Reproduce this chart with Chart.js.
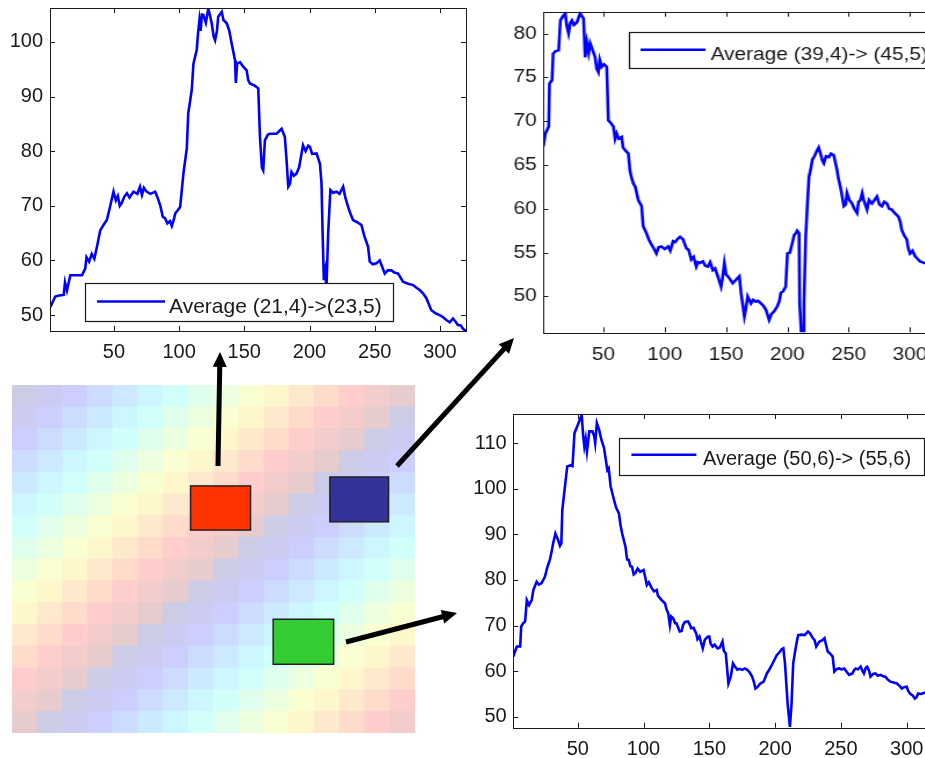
<!DOCTYPE html>
<html>
<head>
<meta charset="utf-8">
<script src="https://cdn.jsdelivr.net/npm/chart.js@4.4.1/dist/chart.umd.min.js"></script>
<style>
  html, body { margin: 0; padding: 0; background: #fff; width: 925px; height: 758px; overflow: hidden; }
  .abs { position: absolute; }
  #heatWrap { left: 12px; top: 385px; width: 403px; height: 348px; }
  #c2wrap { left: 470px; top: 0; transform: scaleX(1.16); transform-origin: 0 0; }
  #overlay { left: 0; top: 0; pointer-events: none; z-index: 10; }
</style>
</head>
<body>
<canvas id="c1" class="abs" width="472" height="368" style="left:0;top:0"></canvas>
<div id="c2wrap" class="abs"><canvas id="c2" width="404" height="370"></canvas></div>
<canvas id="c3" class="abs" width="480" height="358" style="left:460px;top:400px"></canvas>
<div id="heatWrap" class="abs"><canvas id="heat" width="403" height="348"></canvas></div>
<canvas id="overlay" class="abs" width="925" height="758"></canvas>
<script>
// ---- data ----
const xTicks = [50, 100, 150, 200, 250, 300];
const yTicks1 = [50, 60, 70, 80, 90, 100];
const yTicks2 = [50, 55, 60, 65, 70, 75, 80];
const yTicks3 = [50, 60, 70, 80, 90, 100, 110];

const label1 = 'Average (21,4)->(23,5)';
const label2 = 'Average (39,4)-> (45,5)';
const label3 = 'Average (50,6)-> (55,6)';

// [x, value]
const avg1 = [
  [1.3,51.5],[5,53.4],[8,53.6],[11.5,53.7],[12.5,56],[14,54.5],[16.6,57.3],[20,57.3],[25.5,57.3],
  [28,58.5],[29,60.6],[31,59.8],[33,61.2],[35,60.3],[37,62.5],[39.5,65.5],[42,66.5],[44.6,67.4],
  [47,69.8],[49.7,72.6],[51.5,71],[53,71.8],[54.5,70],[56,70.5],[58,71.7],[60,72.3],[62,71.5],
  [65,72.6],[68,72.2],[70,73.5],[71.5,72],[73,73.3],[75,72.6],[78,72.2],[81.6,72.6],[83.5,71.5],
  [85.5,70.1],[87.5,68],[89.3,67.7],[91,66.8],[93,67.2],[94.4,66.3],[96,67.5],[97,68.6],[100.8,69.8],
  [103.3,75.9],[105.9,80.5],[107,86.9],[109.7,91.2],[111,96],[113.5,98.5],[114.5,101.5],[115.6,104],
  [116.5,102],[117.5,105],[118.6,104.9],[120.5,103.5],[122.4,106.1],[124,104.5],[125,103.4],
  [126.5,101],[127.6,100.3],[129,102],[130,104.6],[132.7,105.5],[134,104],[136.5,103.4],[138.5,102],
  [140.3,99.7],[142.9,96.6],[143.5,92.5],[144.5,96],[146.7,96.3],[149,95.5],[151.8,94.8],[153,93],
  [154.3,92.4],[158,92],[160.7,91.5],[162,82.6],[163.5,77],[164.5,76.5],[165.8,82],[168,83],
  [169.6,83.2],[174.7,83.2],[176.5,83.6],[178.6,84.1],[181.1,82.6],[182.5,78],[183.7,73.5],[185,74],
  [186.2,76.2],[188,75.5],[190,75.9],[192,77],[193.9,79.6],[195,81.1],[197,80],[199,81],[200.3,80.8],
  [202,79.5],[205.4,79.6],[208,77.7],[209.2,74.1],[210,65.5],[211,56.4],[212,58],[213,55],[214.3,64.9],
  [216,72.9],[218,72.4],[220.7,72.6],[223,72.2],[225.8,73.5],[227.5,71.5],[229.6,69.8],[231.5,68.5],
  [233.4,67.4],[236.5,67],[239.8,66.5],[242,64.5],[244.9,62.5],[246.2,59.8],[248.5,59.3],[251.3,59.5],
  [253.8,60],[255.5,59],[257.7,57.6],[260,58.2],[262.8,58.2],[265,57.8],[267.9,57.6],[270,56.8],
  [271.7,56.1],[275,55.8],[279.4,55.5],[282,55],[284.5,54.6],[287,54],[289.6,53.1],[291.5,52],
  [293.4,50.9],[297,50.3],[299.8,50],[302,49.7],[304.9,49.1],[307.5,48.7],[310,49.4],[312,48.8],
  [313.8,48.2],[316,48.1],[317.7,47.5],[320,47.1]
];

const avg2 = [
  [1,67.1],[2.7,68.6],[5.4,69.4],[6,74.3],[8.1,74.7],[9,77.7],[11,78],[13.5,78.1],[14.9,81.5],[17,82],
  [18.9,82.3],[20,81],[21.6,80],[23,81.2],[24.3,81.5],[26,81],[28.4,81.3],[31,82.3],[33.8,81.7],
  [35.1,77.3],[36.5,79],[38,77.8],[39.2,78.9],[41,78.2],[43.2,77.3],[44.5,76],[45.9,75.6],[47,77],
  [48.6,76.2],[50.5,76.5],[52.7,76.2],[54,70.1],[56,69.8],[58.1,69.4],[59.5,68],[60.8,68.6],[62.5,68],
  [64.9,68.2],[66,67],[67.6,66.7],[70.3,66.3],[71.6,64.4],[73,63.5],[74.3,62.9],[76,62.5],[78.4,61],
  [81.1,60.3],[82.4,58],[85.1,57.2],[87,56.5],[89.2,55.9],[91,55.5],[93.2,54.9],[95,55.6],[97.3,55.7],
  [100,55.4],[102.7,55.7],[104.5,55.2],[106.8,56.3],[108.5,56.2],[110.8,56.6],[112.5,56.8],[114.9,56.5],
  [117.6,55.5],[119.5,55.3],[121.6,54.2],[123.5,54.5],[125.7,53.4],[127,53.9],[128.4,53.8],[131.1,54],
  [133,53.5],[135.1,53.4],[137,53.9],[139.2,53],[141,53.2],[143.2,52.3],[145.9,51.1],[147,52],
  [148.6,53.8],[150,52.5],[151.4,52.3],[153,52],[155.4,51.5],[158.1,51.9],[160.8,52.3],[162.2,50.4],
  [164.9,47.7],[166,48.5],[167.6,50],[170.3,49.2],[172,49.6],[174.3,49.4],[176,49.5],[178.4,49.2],
  [180.5,48.9],[182.4,48.5],[185.1,47.3],[187,48],[189.2,48.3],[191.9,48.9],[193.5,49.5],[194.6,50.4],
  [196.5,50.6],[198.6,51.1],[200,54.9],[202,55],[204,56.1],[205.5,57],[206.8,57.2],[208,57.5],
  [209.5,57.2],[210,49.2],[211.6,45],[213,46],[213.5,49.2],[214.9,56.8],[216.2,60.3],[217.6,63.7],
  [219,64.5],[220.3,65.6],[222,66],[224.3,66.7],[225.5,67],[227,66.3],[228.5,65.5],[229.7,65.2],
  [231.5,66],[233.8,65.9],[235.5,66.3],[237.8,66.1],[240.5,64.4],[241.5,63.5],[243.2,62.5],[244.5,61.5],
  [246,60.3],[247.5,60.5],[248.6,61.8],[250.5,61],[252.7,60.6],[254.5,60],[256.8,59.5],[258,60.8],
  [259.5,61],[261,61.8],[262.2,61],[264.9,59.9],[266.5,61],[268.9,60.6],[271,61],[273,61.4],[275,60.5],
  [277,60.3],[279,60.8],[281.1,60.6],[283,60],[285.1,59.9],[287.5,59.5],[290.5,59.1],[292,58.5],
  [293.2,57.6],[295,57],[297.3,56.5],[298.5,55.5],[300,54.9],[302,55.2],[304,54.6],[306,54.3],
  [308.1,54],[312,53.8],[316,53.6],[320,53.4]
];

const avg3 = [
  [1,63.2],[2.5,64.5],[3.75,65.4],[6.25,65.4],[7,69.8],[8.5,70.5],[10,70.9],[11.25,75.6],[13,74.5],
  [15,75.6],[16.25,77.8],[18.75,79.6],[20.5,79],[22.5,79.3],[25,80.7],[27,82.9],[28.75,84.4],[30,86],
  [31.25,88],[33,90.2],[35,88.8],[36.5,87.5],[37.5,88],[38.25,95.4],[40,99.8],[42,104.9],[45,105.2],
  [46,105],[47.5,112.2],[50,114],[53,116.2],[54,112],[55,109.3],[56,111],[57,108.2],[58.75,112.6],
  [61.25,112.6],[62.5,111.5],[63.25,110],[64.5,114.4],[66.25,112.9],[68,110.7],[70,108.9],[72.5,104.1],
  [73.5,104.5],[75,100.5],[77.5,97.6],[79,96],[81.25,94.6],[82.5,92],[83.75,90.2],[86.25,87.3],
  [87.5,84.5],[88.75,84.4],[90,83],[91.25,82.9],[92.5,81.2],[93.75,81.5],[95.5,82.5],[97.5,81.8],
  [100,82.2],[101,81],[102.5,78.9],[104,79.5],[106.25,78.2],[108,77.5],[110,77.8],[111,76.5],[112.5,76],
  [114,75.5],[116.25,74.9],[117.5,73.5],[118.75,72.7],[120,70.1],[121,72],[122.5,71.6],[124,70.5],
  [125,70.5],[127.5,68.7],[129,68.8],[130,70.1],[131.5,70.8],[133.75,70.9],[135,70.3],[136.25,69.4],
  [138,69.5],[140,68.3],[141,67],[142.5,67.6],[143.5,66.5],[145,65],[146.5,66.8],[147.5,67.2],[149,67.6],
  [150,67.6],[151,66],[152.5,65.4],[154,65.8],[156.25,65],[158,65.2],[160,66.5],[161,64.5],[162.5,63.9],
  [164.5,57.3],[166.25,58.8],[168,61.7],[169.5,61],[171.25,60.3],[173,60.5],[175,60.3],[177,60.6],
  [178.75,60.3],[180.5,59.8],[182.5,58.8],[184,57.5],[185,56.2],[186.5,56.5],[188.75,57.3],[190,57.5],
  [191.25,57.7],[193.75,59.5],[195.5,60.3],[197.5,61.4],[199.5,62.5],[201.25,63.5],[203.75,64.3],
  [205,64.8],[206.25,65],[207.5,61.7],[209.5,52.9],[211.25,47.8],[212.5,52.9],[213.75,61.7],[215,64],
  [216.25,66.1],[217.5,67.9],[220,68],[222.5,67.9],[225,68.7],[226.5,68.3],[228.75,67.2],[230,66.8],
  [231.25,65.4],[232.5,66],[233.75,66.5],[236,66.8],[237.5,67.2],[238.5,66],[240,64.3],[242,63.8],
  [243.75,63.2],[245,59.9],[247,60.5],[248.75,60.6],[250.5,60.4],[252.5,60.6],[254.5,59.8],[256.25,59.2],
  [258.75,59.5],[260,60.2],[261.25,60.6],[263,60.4],[265,61],[266.5,60],[267.5,59.5],[269,60.8],[270,61],
  [271.5,60],[272.5,58.8],[274.5,59.4],[276.25,59.5],[278,59],[280,59.2],[282,58.9],[283.75,58.8],
  [285.5,58.2],[287.5,57.7],[290,57.5],[292.5,57.3],[294.5,56.8],[296.25,56.2],[298,56.5],[300,56.6],
  [301,55.7],[302.5,55.1],[304.5,54.7],[306.25,54],[307.5,54.3],[308.75,55.1],[311,55],[314,55.3],
  [317,55.5],[320,55.6]
];

// colour level (0..15) of each heat-map cell, top row first
const heatCols = ['1','2','3','4','5','6','7','8','9','10','11','12','13','14','15','16'];
const heatRows = [
  [0,1,2,3,4,5,6,7,8,9,10,11,12,13,14,15],
  [1,2,3,4,5,6,7,8,9,10,11,12,13,14,15,0],
  [2,3,4,5,6,7,8,9,10,11,12,13,14,15,0,1],
  [3,4,5,6,7,8,9,10,11,12,13,14,15,0,1,2],
  [4,5,6,7,8,9,10,11,12,13,14,15,0,1,2,3],
  [5,6,7,8,9,10,11,12,13,14,15,0,1,2,3,4],
  [6,7,8,9,10,11,12,13,14,15,0,1,2,3,4,5],
  [7,8,9,10,11,12,13,14,15,0,1,2,3,4,5,6],
  [8,9,10,11,12,13,14,15,0,1,2,3,4,5,6,7],
  [9,10,11,12,13,14,15,0,1,2,3,4,5,6,7,8],
  [10,11,12,13,14,15,0,1,2,3,4,5,6,7,8,9],
  [11,12,13,14,15,0,1,2,3,4,5,6,7,8,9,10],
  [12,13,14,15,0,1,2,3,4,5,6,7,8,9,10,11],
  [13,14,15,0,1,2,3,4,5,6,7,8,9,10,11,12],
  [14,15,0,1,2,3,4,5,6,7,8,9,10,11,12,13],
  [15,0,1,2,3,4,5,6,7,8,9,10,11,12,13,14]
];

// ---- helpers ----
const FONT = '"Liberation Sans", Arial, Helvetica, sans-serif';
const INK = '#1a1a1a';

// jet colormap, washed out on white (opaque so stacked cells leave no seams)
function jetWash(v, alpha) {
  const c = t => Math.round(255 * (1 - alpha) + 255 * alpha * Math.max(0, Math.min(1, t)));
  const r = c(1.5 - Math.abs(4 * v - 3));
  const g = c(1.5 - Math.abs(4 * v - 2));
  const b = c(1.5 - Math.abs(4 * v - 1));
  return `rgb(${r},${g},${b})`;
}

// MATLAB style box with ticks pointing inwards
const matlabAxes = {
  id: 'matlabAxes',
  afterDraw(chart, args, opts) {
    const { ctx, chartArea: a, scales } = chart;
    const ty = opts.tick, tx = opts.tickX;
    ctx.save();
    ctx.strokeStyle = INK;
    ctx.lineWidth = 1;
    ctx.strokeRect(Math.round(a.left) + 0.5, Math.round(a.top) + 0.5,
                   Math.round(a.right - a.left), Math.round(a.bottom - a.top));
    ctx.beginPath();
    scales.x.ticks.forEach(t => {
      const p = Math.round(scales.x.getPixelForValue(t.value)) + 0.5;
      ctx.moveTo(p, a.bottom); ctx.lineTo(p, a.bottom - ty);
      ctx.moveTo(p, a.top); ctx.lineTo(p, a.top + ty);
    });
    scales.y.ticks.forEach(t => {
      const p = Math.round(scales.y.getPixelForValue(t.value)) + 0.5;
      ctx.moveTo(a.left, p); ctx.lineTo(a.left + tx, p);
      ctx.moveTo(a.right, p); ctx.lineTo(a.right - tx, p);
    });
    ctx.stroke();
    ctx.restore();
  }
};

// boxed legend sitting inside the axes
const boxLegend = {
  id: 'boxLegend',
  afterDatasetsDraw(chart, args, o) {
    const { ctx, chartArea: a } = chart;
    const ds = chart.data.datasets[0];
    const x = Math.round(a.left + o.left), y = Math.round(a.top + o.top);
    ctx.save();
    ctx.fillStyle = '#fff';
    ctx.fillRect(x, y, o.width, o.height);
    ctx.strokeStyle = INK;
    ctx.lineWidth = 1.2;
    ctx.strokeRect(x + 0.5, y + 0.5, o.width, o.height);
    ctx.strokeStyle = ds.borderColor;
    ctx.lineWidth = ds.borderWidth;
    ctx.beginPath();
    ctx.moveTo(x + o.lineX0, y + o.lineY);
    ctx.lineTo(x + o.lineX1, y + o.lineY);
    ctx.stroke();
    ctx.fillStyle = INK;
    ctx.font = o.fontSize + 'px ' + FONT;
    ctx.textBaseline = 'alphabetic';
    ctx.fillText(ds.label, x + o.textX, y + o.baseY);
    ctx.restore();
  }
};

function noScalePadding(s) {
  s.paddingTop = 0; s.paddingBottom = 0; s.paddingLeft = 0; s.paddingRight = 0;
}

function lineChart(id, cfg) {
  return new Chart(document.getElementById(id), {
    type: 'line',
    data: {
      datasets: [{
        label: cfg.label,
        data: cfg.points.map(p => ({ x: p[0], y: p[1] })),
        borderColor: '#0000ff',
        borderWidth: 2.6,
        pointRadius: 0,
        tension: 0,
        clip: 0
      }]
    },
    options: {
      responsive: false,
      animation: false,
      layout: { padding: cfg.pad },
      plugins: {
        legend: { display: false },
        tooltip: { enabled: false },
        matlabAxes: { tick: 5, tickX: cfg.tickX || 5 },
        boxLegend: cfg.legend
      },
      scales: {
        x: {
          type: 'linear', min: 1, max: 320,
          grid: { display: false, drawTicks: false }, border: { display: false },
          ticks: { color: INK, font: { family: FONT, size: cfg.fontSize, lineHeight: 1 },
                   padding: cfg.xPad, maxRotation: 0, autoSkip: false },
          afterBuildTicks: s => { s.ticks = xTicks.map(v => ({ value: v })); },
          afterFit: s => { s.height = cfg.xAxisH; noScalePadding(s); }
        },
        y: {
          type: 'linear', min: cfg.yMin, max: cfg.yMax,
          grid: { display: false, drawTicks: false }, border: { display: false },
          ticks: { color: INK, font: { family: FONT, size: cfg.fontSize, lineHeight: 1 },
                   padding: cfg.yPad, autoSkip: false },
          afterBuildTicks: s => { s.ticks = cfg.yTicks.map(v => ({ value: v })); },
          afterFit: s => { s.width = cfg.yAxisW; noScalePadding(s); }
        }
      }
    },
    plugins: [matlabAxes, boxLegend]
  });
}

// ---- top left ----
lineChart('c1', {
  label: label1, points: avg1, yTicks: yTicks1, yMin: 47.1, yMax: 106.2,
  fontSize: 20, pad: { left: 0, top: 8, right: 6, bottom: 0 },
  yAxisW: 50, xAxisH: 37, yPad: 7, xPad: 11.5,
  legend: { left: 35, top: 275, width: 308, height: 38, lineX0: 12, lineX1: 80, lineY: 18.5,
            textX: 84, baseY: 30, fontSize: 21 }
});

// ---- top right (drawn narrower, stretched sideways by css) ----
lineChart('c2', {
  label: label2, points: avg2, yTicks: yTicks2, yMin: 45.9, yMax: 82.5,
  fontSize: 18, pad: { left: 0, top: 11.7, right: 3.5, bottom: 0 }, tickX: 4.3,
  yAxisW: 63.2, xAxisH: 37.7, yPad: 5.7, xPad: 14,
  legend: { left: 73.3, top: 20.6, width: 256, height: 36, lineX0: 10, lineX1: 66, lineY: 17.7,
            textX: 70.4, baseY: 27.7, fontSize: 18 }
});

// ---- bottom right ----
lineChart('c3', {
  label: label3, points: avg3, yTicks: yTicks3, yMin: 47.6, yMax: 116.4,
  fontSize: 20, pad: { left: 0, top: 14, right: 7, bottom: 0 },
  yAxisW: 53.3, xAxisH: 30.3, yPad: 6.6, xPad: 11.5,
  legend: { left: 106, top: 24.3, width: 305, height: 37, lineX0: 12.4, lineX1: 77.4, lineY: 16.7,
            textX: 84, baseY: 27.4, fontSize: 20 }
});

// ---- heat map with the three sample rectangles ----
const heatMarks = [
  { x0: 7.09, x1: 9.47, y0: 4.64, y1: 6.67, color: '#ff3300' },
  { x0: 12.62, x1: 14.95, y0: 4.23, y1: 6.29, color: '#333399' },
  { x0: 10.37, x1: 12.77, y0: 10.77, y1: 12.84, color: '#33cc33' }
];

const markPlugin = {
  id: 'marks',
  afterDraw(chart) {
    const { ctx, chartArea: a } = chart;
    const cw = (a.right - a.left) / 16, ch = (a.bottom - a.top) / 16;
    ctx.save();
    heatMarks.forEach(m => {
      const x = a.left + m.x0 * cw, y = a.top + m.y0 * ch;
      const w = (m.x1 - m.x0) * cw, h = (m.y1 - m.y0) * ch;
      ctx.fillStyle = m.color;
      ctx.fillRect(x, y, w, h);
      ctx.strokeStyle = '#222';
      ctx.lineWidth = 1.5;
      ctx.strokeRect(x, y, w, h);
    });
    ctx.restore();
  }
};

new Chart(document.getElementById('heat'), {
  type: 'bar',
  data: {
    labels: heatCols,
    datasets: heatRows.slice().reverse().map(row => ({
      data: row.map(() => 1),
      backgroundColor: row.map(l => jetWash(l / 15, 0.2)),
      borderWidth: 0,
      categoryPercentage: 1,
      barPercentage: 1
    }))
  },
  options: {
    responsive: false,
    animation: false,
    layout: { padding: 0 },
    plugins: { legend: { display: false }, tooltip: { enabled: false } },
    scales: {
      x: { display: false, stacked: true },
      y: { display: false, stacked: true, min: 0, max: 16 }
    }
  },
  plugins: [markPlugin]
});

// ---- arrows from the rectangles to their plots ----
const ov = document.getElementById('overlay').getContext('2d');
function arrow(x0, y0, x1, y1) {
  const dx = x1 - x0, dy = y1 - y0, len = Math.hypot(dx, dy);
  const ux = dx / len, uy = dy / len, hl = 15, hw = 7;
  const bx = x1 - ux * hl, by = y1 - uy * hl;
  ov.strokeStyle = '#000';
  ov.lineWidth = 5;
  ov.beginPath();
  ov.moveTo(x0, y0);
  ov.lineTo(bx + ux * 2, by + uy * 2);
  ov.stroke();
  ov.fillStyle = '#000';
  ov.beginPath();
  ov.moveTo(x1, y1);
  ov.lineTo(bx - uy * hw, by + ux * hw);
  ov.lineTo(bx + uy * hw, by - ux * hw);
  ov.closePath();
  ov.fill();
}
arrow(218, 466, 220, 352);
arrow(397, 466, 514, 338);
arrow(346, 642, 457, 613);
</script>
</body>
</html>
